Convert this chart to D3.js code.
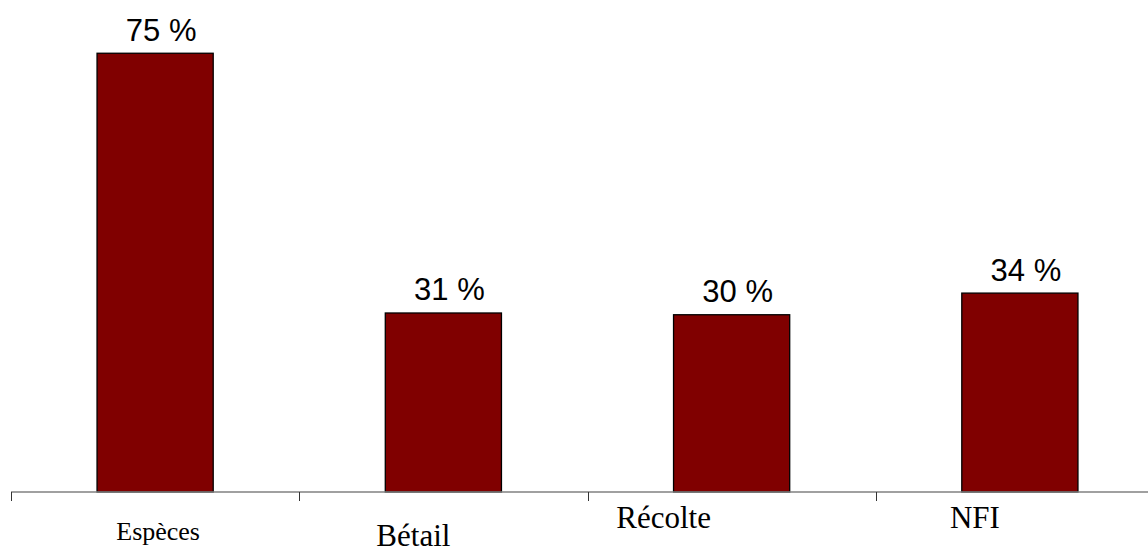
<!DOCTYPE html>
<html>
<head>
<meta charset="utf-8">
<script src="https://cdn.jsdelivr.net/npm/d3@7"></script>
<style>
html,body{margin:0;padding:0;background:#fff;}
svg{display:block;}
</style>
</head>
<body>
<svg id="chart" width="1148" height="554"></svg>
<script>
const categories = ["Espèces", "Bétail", "Récolte", "NFI"];
const values = [75, 30.6, 30.3, 34];
const yMax = 80;

// layout only (label styling per category, as in the reference)
const catFontSize = [26, 31, 31, 31];
const catDx = [3, -30, -68, -45];
const catBaseline = [540, 546, 528, 528];

const svg = d3.select("#chart");
const W = 1148, H = 554;
const axisY = 492;

const x = d3.scaleBand().domain(categories).range([11, 1164]).padding(0);
const y = d3.scaleLinear().domain([0, yMax]).range([axisY, 24]);
const barW = x.bandwidth() * 0.403;

// bars
svg.selectAll("rect.bar").data(categories).enter().append("rect")
  .attr("class", "bar")
  .attr("x", (d) => x(d) + x.bandwidth() / 2 - barW / 2)
  .attr("y", (d, i) => y(values[i]))
  .attr("width", barW)
  .attr("height", (d, i) => axisY - y(values[i]))
  .attr("fill", "#800000")
  .attr("stroke", "#000")
  .attr("stroke-width", 1.3);

// axis
const axis = d3.axisBottom(x).tickSize(0).tickFormat("");
const g = svg.append("g").attr("transform", `translate(0,${axisY})`).call(axis);
g.select(".domain").remove();
g.append("line").attr("x1", 11).attr("x2", W).attr("y1", 0).attr("y2", 0)
  .attr("stroke", "#808080").attr("stroke-width", 1.5);
g.selectAll(".tickmark").data(categories).enter().append("line")
  .attr("x1", (d) => Math.round(x(d)) + 0.5)
  .attr("x2", (d) => Math.round(x(d)) + 0.5)
  .attr("y1", 0).attr("y2", 9)
  .attr("stroke", "#333").attr("stroke-width", 1);

// value labels
const fmt = d3.format(".0f");
svg.selectAll("text.val").data(categories).enter().append("text")
  .attr("class", "val")
  .attr("x", (d) => x(d) + x.bandwidth() / 2 + 6)
  .attr("y", (d, i) => y(values[i]) - 12.5)
  .attr("text-anchor", "middle")
  .attr("font-family", "'Liberation Sans', Arial, sans-serif")
  .attr("font-size", 31)
  .attr("fill", "#000")
  .text((d, i) => fmt(values[i]) + " %");

// category labels
svg.selectAll("text.cat").data(categories).enter().append("text")
  .attr("class", "cat")
  .attr("x", (d, i) => x(d) + x.bandwidth() / 2 + catDx[i])
  .attr("y", (d, i) => catBaseline[i])
  .attr("text-anchor", "middle")
  .attr("font-family", "'Liberation Serif', 'Times New Roman', serif")
  .attr("font-size", (d, i) => catFontSize[i])
  .attr("fill", "#000")
  .text((d) => d);
</script>
</body>
</html>
